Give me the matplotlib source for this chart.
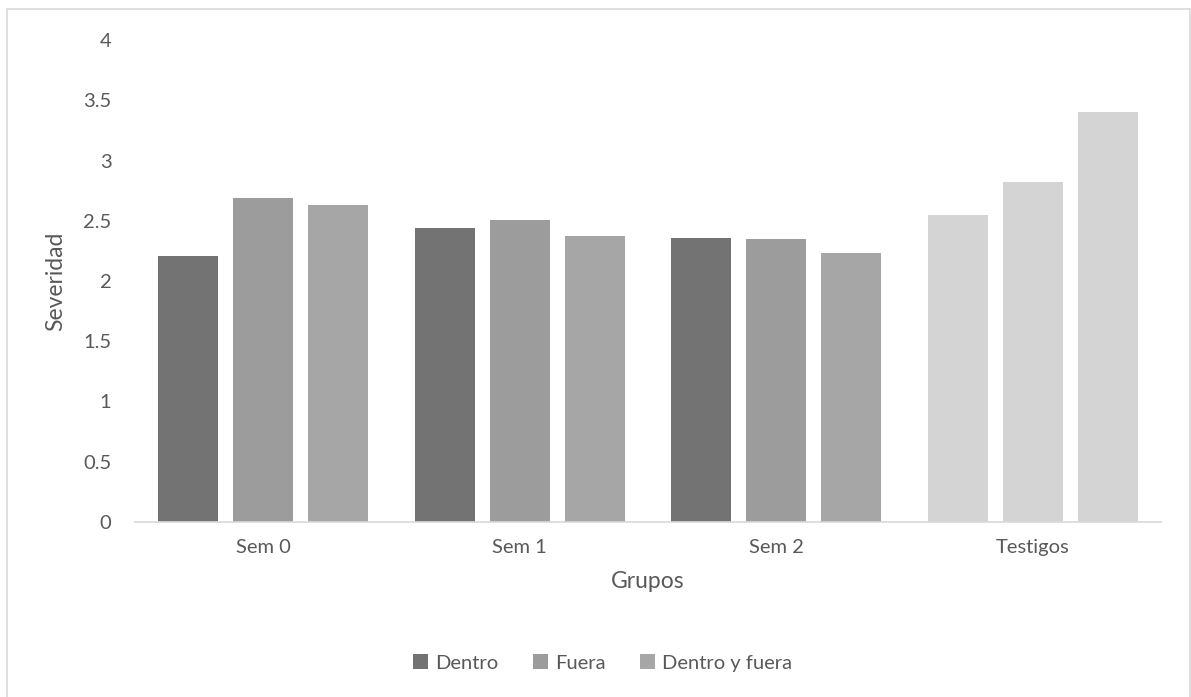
import matplotlib
matplotlib.use('Agg')
import matplotlib.pyplot as plt
import numpy as np
from matplotlib.patches import Rectangle, Patch

plt.rcParams['font.family'] = ['Lato', 'DejaVu Sans']

grupos = ['Sem 0', 'Sem 1', 'Sem 2', 'Testigos']
series = ['Dentro', 'Fuera', 'Dentro y fuera']
dentro = [2.21, 2.44, 2.36, 2.55]
fuera = [2.69, 2.51, 2.35, 2.82]
dentro_fuera = [2.63, 2.37, 2.23, 3.40]

colores = ['#737373', '#9c9c9c', '#a6a6a6']
testigo_color = '#d4d4d4'
txt = '#595959'

fig = plt.figure(figsize=(11.91, 6.97), dpi=100)
fig.patches.append(Rectangle((0.006, -0.01), 0.993, 0.997, transform=fig.transFigure,
                             fill=False, edgecolor='#d9d9d9', linewidth=1.2))
ax = fig.add_axes([0.1134, 0.2511, 0.8615, 0.6915])

x = np.arange(len(grupos))
w = 0.234
step = 0.292
for i, vals in enumerate([dentro, fuera, dentro_fuera]):
    cols = [colores[i]] * 3 + [testigo_color]
    ax.bar(x + (i - 1) * step, vals, width=w, color=cols, zorder=2)

ax.set_xlim(-0.5, len(grupos) - 0.5)
ax.set_ylim(0, 4)
ax.set_yticks(np.arange(0, 4.01, 0.5))
ax.set_yticklabels(['0', '0.5', '1', '1.5', '2', '2.5', '3', '3.5', '4'])
ax.set_xticks(x)
ax.set_xticklabels(grupos)
for s in ['top', 'right', 'left']:
    ax.spines[s].set_visible(False)
ax.spines['bottom'].set_color('#d9d9d9')
ax.spines['bottom'].set_linewidth(1.2)
ax.tick_params(axis='both', length=0, labelsize=14.5, colors=txt)
ax.tick_params(axis='y', pad=17)
ax.tick_params(axis='x', pad=12)
ax.set_ylabel('Severidad', fontsize=16.5, color=txt, labelpad=12)
ax.set_xlabel('Grupos', fontsize=16.5, color=txt, labelpad=11)

handles = [Patch(facecolor=c) for c in colores]
fig.legend(handles, series, loc='center', bbox_to_anchor=(0.506, 0.049), ncol=3,
           frameon=False, fontsize=14.5, labelcolor=txt, handlelength=0.75,
           handleheight=0.75, handletextpad=0.35, columnspacing=1.7)

fig.savefig('out.png', dpi=100)
